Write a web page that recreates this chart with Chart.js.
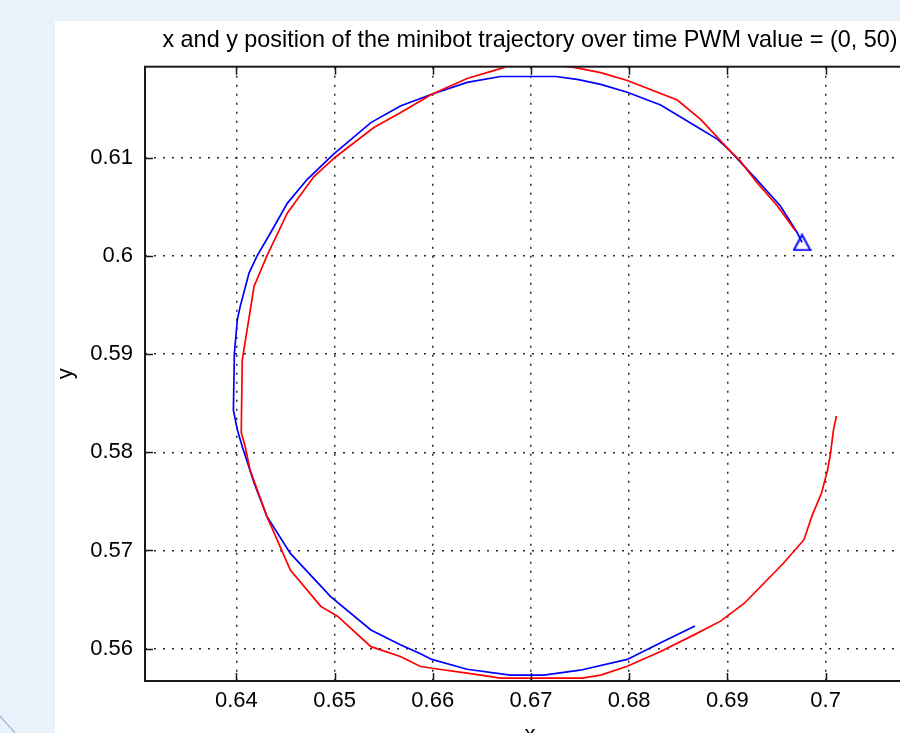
<!DOCTYPE html>
<html>
<head>
<meta charset="utf-8">
<title>minibot trajectory</title>
<script src="https://cdn.jsdelivr.net/npm/chart.js@4.4.1/dist/chart.umd.min.js"></script>
<style>
    html, body { margin: 0; padding: 0; }
    body { width: 900px; height: 733px; overflow: hidden; background: #e9f1fa; position: relative; }
    #panel { position: absolute; left: 55px; top: 21px; width: 950px; height: 740px; background: #fff; }
    #corner { position: absolute; left: -4px; top: 724px; width: 23px; height: 1px; background: #8db0d6; transform: rotate(48deg); }
</style>
</head>
<body>
<div id="corner"></div>
<div id="panel"><canvas id="trajChart" width="950" height="740"></canvas></div>
<script>
// measured trajectory (blue) starts at the triangle marker
const blueX = [0.6976, 0.6971, 0.6954, 0.6927, 0.6901, 0.6890, 0.6865, 0.6832, 0.6798, 0.6771,
    0.6747, 0.6725, 0.6669, 0.6635, 0.6599, 0.6567, 0.6537, 0.6499, 0.6472, 0.6452,
    0.6435, 0.6421, 0.6413, 0.6404, 0.6401, 0.6398, 0.6397, 0.6401, 0.6406, 0.6418,
    0.6431, 0.6455, 0.6496, 0.6537, 0.6567, 0.6587, 0.6599, 0.6635, 0.6679, 0.6713,
    0.6750, 0.6798, 0.6832, 0.6867];
const blueY = [0.6014, 0.6024, 0.6051, 0.6081, 0.6109, 0.6119, 0.6134, 0.6154, 0.6167, 0.6175,
    0.6180, 0.6183, 0.6183, 0.6177, 0.6165, 0.6153, 0.6136, 0.6104, 0.6078, 0.6054,
    0.6024, 0.6000, 0.5983, 0.5949, 0.5935, 0.5901, 0.5843, 0.5823, 0.5806, 0.5769,
    0.5735, 0.5697, 0.5653, 0.5619, 0.5604, 0.5595, 0.5589, 0.5579, 0.5573, 0.5573,
    0.5578, 0.5589, 0.5606, 0.5623];

const redX = [0.6969, 0.6951, 0.6930, 0.6913, 0.6900, 0.6873, 0.6849, 0.6798, 0.6771, 0.6745,
    0.6710, 0.6679, 0.6672, 0.6635, 0.6599, 0.6567, 0.6540, 0.6501, 0.6479, 0.6452,
    0.6431, 0.6418, 0.6411, 0.6406, 0.6405, 0.6409, 0.6414, 0.6431, 0.6455, 0.6486,
    0.6503, 0.6537, 0.6567, 0.6587, 0.6599, 0.6635, 0.6669, 0.6752, 0.6771, 0.6798,
    0.6832, 0.6866, 0.6893, 0.6917, 0.6957, 0.6978, 0.6986, 0.6996, 0.7002, 0.7005,
    0.7008, 0.7011];
const redY = [0.6026, 0.6051, 0.6075, 0.6097, 0.6110, 0.6139, 0.6159, 0.6179, 0.6187, 0.6192,
    0.6197, 0.6197, 0.6192, 0.6181, 0.6165, 0.6146, 0.6131, 0.6101, 0.6081, 0.6044,
    0.6000, 0.5969, 0.5925, 0.5894, 0.5820, 0.5806, 0.5782, 0.5735, 0.5680, 0.5643,
    0.5633, 0.5602, 0.5592, 0.5582, 0.5580, 0.5575, 0.5570, 0.5570, 0.5573, 0.5582,
    0.5597, 0.5614, 0.5628, 0.5646, 0.5687, 0.5711, 0.5735, 0.5759, 0.5782, 0.5799,
    0.5823, 0.5837];

const xTicks = [0.64, 0.65, 0.66, 0.67, 0.68, 0.69, 0.70];
const xTickLabels = ["0.64", "0.65", "0.66", "0.67", "0.68", "0.69", "0.7"];
const yTicks = [0.56, 0.57, 0.58, 0.59, 0.60, 0.61];
const yTickLabels = ["0.56", "0.57", "0.58", "0.59", "0.6", "0.61"];

const xMin = 0.6307, xMax = 0.7091;
const yMin = 0.5567, yMax = 0.6193;

const chartTitle = "x and y position of the minibot trajectory over time PWM value = (0, 50)";
const FONT = "'Liberation Sans', Arial, Helvetica, sans-serif";

function toPoints(xs, ys) {
    return xs.map((x, i) => ({ x: x, y: ys[i] }));
}

// matlab '^' marker: triangle centred on its bounding box
function makeTriangle() {
    const c = document.createElement("canvas");
    c.width = 19;
    c.height = 18;
    const g = c.getContext("2d");
    g.strokeStyle = "#0000ff";
    g.lineWidth = 2;
    g.beginPath();
    g.moveTo(9.5, 1.5);
    g.lineTo(17.8, 16.8);
    g.lineTo(1.2, 16.8);
    g.closePath();
    g.stroke();
    return c;
}

// matlab style box with ticks pointing inwards
const matlabBox = {
    id: "matlabBox",
    afterDatasetsDraw(chart) {
        const { ctx, chartArea: a, scales } = chart;
        ctx.save();
        ctx.strokeStyle = "#1a1a1a";
        ctx.lineWidth = 1.5;
        ctx.beginPath();
        scales.x.ticks.forEach(t => {
            const px = Math.round(scales.x.getPixelForValue(t.value)) + 0.5;
            ctx.moveTo(px, a.bottom); ctx.lineTo(px, a.bottom - 8);
            ctx.moveTo(px, a.top); ctx.lineTo(px, a.top + 8);
        });
        scales.y.ticks.forEach(t => {
            const py = Math.round(scales.y.getPixelForValue(t.value)) + 0.5;
            ctx.moveTo(a.left, py); ctx.lineTo(a.left + 8, py);
            ctx.moveTo(a.right, py); ctx.lineTo(a.right - 8, py);
        });
        ctx.stroke();
        ctx.lineWidth = 2;
        ctx.strokeRect(a.left, a.top, a.right - a.left, a.bottom - a.top);
        ctx.restore();
    }
};

new Chart(document.getElementById("trajChart"), {
    type: "scatter",
    data: {
        datasets: [
            {
                data: toPoints(redX, redY),
                showLine: true,
                borderColor: "#ff0000",
                borderWidth: 1.7,
                pointRadius: 0,
                tension: 0
            },
            {
                data: toPoints(blueX, blueY),
                showLine: true,
                borderColor: "#0000ff",
                borderWidth: 1.7,
                pointRadius: 0,
                tension: 0
            },
            {
                data: toPoints(blueX.slice(0, 1), blueY.slice(0, 1)),
                pointStyle: makeTriangle(),
                pointRadius: 9
            }
        ]
    },
    options: {
        responsive: false,
        animation: false,
        layout: { padding: { left: 0, top: 0, right: 90, bottom: 0 } },
        plugins: {
            legend: { display: false },
            tooltip: { enabled: false },
            title: { display: false }
        },
        scales: {
            // top axis only carries the title, centred over the axes like matlab does
            top: {
                type: "linear",
                position: "top",
                min: xMin,
                max: xMax,
                afterFit: s => { s.height = 45.7; },
                ticks: { display: false },
                grid: { display: false, drawTicks: false },
                border: { display: false },
                title: {
                    display: true,
                    text: chartTitle,
                    color: "#000",
                    font: { family: FONT, size: 23.4, lineHeight: 1.2 },
                    padding: { top: 5.5, bottom: 0 }
                }
            },
            x: {
                type: "linear",
                min: xMin,
                max: xMax,
                afterBuildTicks: s => { s.ticks = xTicks.map(v => ({ value: v })); },
                afterFit: s => { s.height = 80; },
                ticks: {
                    color: "#000",
                    font: { family: FONT, size: 22 },
                    padding: 7,
                    maxRotation: 0,
                    callback: (v, i) => xTickLabels[i]
                },
                grid: { color: "#2a2a2a", lineWidth: 1.5, drawTicks: false },
                border: { display: false, dash: [2, 7] },
                title: {
                    display: true,
                    text: "x",
                    color: "#000",
                    font: { family: FONT, size: 22, lineHeight: 1.2 },
                    padding: { top: 0, bottom: 13 }
                }
            },
            y: {
                type: "linear",
                min: yMin,
                max: yMax,
                afterBuildTicks: s => { s.ticks = yTicks.map(v => ({ value: v })); },
                afterFit: s => { s.width = 90; },
                ticks: {
                    color: "#000",
                    font: { family: FONT, size: 22 },
                    padding: 12,
                    callback: (v, i) => yTickLabels[i]
                },
                grid: { color: "#2a2a2a", lineWidth: 1.5, drawTicks: false },
                border: { display: false, dash: [2, 7] },
                title: {
                    display: true,
                    text: "y",
                    color: "#000",
                    font: { family: FONT, size: 22, lineHeight: 0.7 },
                    padding: { top: 3, bottom: 0 }
                }
            }
        }
    },
    plugins: [matlabBox]
});
</script>
</body>
</html>
